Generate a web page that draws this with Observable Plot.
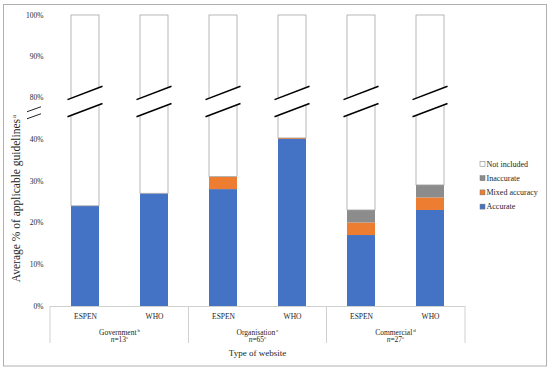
<!DOCTYPE html>
<html><head><meta charset="utf-8">
<script src="https://cdn.jsdelivr.net/npm/d3@7"></script>
<script src="https://cdn.jsdelivr.net/npm/@observablehq/plot@0.6"></script>
<style>body{margin:0;background:#fff}</style>
</head><body><div id="chart"></div>
<script>
// ---- data ----
const groups = ["Government", "Organisation", "Commercial"];
const groupSup = ["b", "c", "d"];
const groupN = [13, 65, 27];
const nSup = "e";
const sources = ["ESPEN", "WHO"];
const categories = ["Accurate", "Mixed accuracy", "Inaccurate", "Not included"];
const accurate    = [24, 27, 28, 40, 17, 23];
const mixed       = [0, 0, 3, 1, 3, 3];
const inaccurate  = [0, 0, 0, 0, 3, 3];
const notIncluded = [76, 73, 69, 59, 77, 71];
const yTicks = [0, 10, 20, 30, 40, 80, 90, 100];
const yAxisTitle = "Average % of applicable guidelines";
const yAxisSup = "a";
const xAxisTitle = "Type of website";

// ---- styling / layout constants ----
const colors = ["#4472C4", "#ED7D31", "#8C8C8C", "#FFFFFF"];
const font = "'Liberation Serif', 'Times New Roman', serif";
const breakLow = 67.5, breakHigh = 81, axisBreak = 65;

// broken-axis transform: 0–40 full scale, 40–80 compressed, 80–100 full scale
const broken = v => v <= 40 ? v * 4.175 : v <= 80 ? 167 + (v - 40) * 1.05 : 209 + (v - 80) * 4.1;
const tickLabel = new Map(yTicks.map(t => [broken(t), t]));

// ---- build table ----
const keys = groups.flatMap(g => sources.map(s => g + "|" + s));
const series = [accurate, mixed, inaccurate, notIncluded];
const rows = [];
keys.forEach((k, i) => {
  let acc = 0;
  categories.forEach((c, j) => {
    const v = series[j][i];
    if (v > 0) rows.push({key: k, cat: c, y1: broken(acc), y2: broken(acc + v)});
    acc += v;
  });
});

const chart = Plot.plot({
  width: 550, height: 371,
  marginLeft: 50, marginRight: 85, marginTop: 15, marginBottom: 65,
  style: {fontFamily: font, fontSize: "7.5px", color: "#262626", background: "#fff"},
  x: {domain: keys, paddingInner: 0.6, paddingOuter: 0.3, label: null},
  y: {domain: [broken(0), broken(100)], label: null},
  color: {domain: categories, range: colors},
  marks: [
    Plot.axisX({tickSize: 0, tickPadding: 7, tickFormat: k => k.split("|")[1], label: null}),
    Plot.axisY(yTicks.map(broken), {tickSize: 0, tickPadding: 7, tickFormat: d => tickLabel.get(d) + "%", label: null}),
    Plot.barY(rows.filter(d => d.cat !== "Not included"), {x: "key", y1: "y1", y2: "y2", fill: "cat"}),
    Plot.barY(rows.filter(d => d.cat === "Not included"), {x: "key", y1: "y1", y2: "y2", fill: "#fff", stroke: "#a6a6a6", strokeWidth: 0.8}),
    Plot.ruleY([0], {stroke: "#d0d0d0"})
  ]
});
document.getElementById("chart").append(chart);

// ---- annotations using the plot's scales ----
const xs = chart.scale("x"), ys = chart.scale("y");
const Y = v => ys.apply(broken(v));
const bw = xs.bandwidth;
const cx = k => xs.apply(k) + bw / 2;
const svg = d3.select(chart);
const g = svg.append("g").attr("text-anchor", "middle");
const hx = 17.5, hy = 6.7;

keys.forEach(k => {
  const c = cx(k);
  const ly = (v, x) => Y(v) - (x - c) * hy / hx;
  const xL = c - bw / 2 - 1, xR = c + bw / 2 + 1;
  g.append("polygon")
    .attr("points", [[xL, ly(breakHigh, xL)], [xR, ly(breakHigh, xR)], [xR, ly(breakLow, xR)], [xL, ly(breakLow, xL)]].map(p => p.join(",")).join(" "))
    .attr("fill", "#fff");
  [breakHigh, breakLow].forEach(v => {
    g.append("line")
      .attr("x1", c - hx).attr("y1", ly(v, c - hx))
      .attr("x2", c + hx).attr("y2", ly(v, c + hx))
      .attr("stroke", "#000").attr("stroke-width", 1.5);
  });
});

// y-axis break marks
const ax = xs.range[0] - 16;
[-3.5, 3.5].forEach(o => {
  const y0 = Y(axisBreak) + o;
  g.append("line").attr("x1", ax - 7).attr("y1", y0 + 2.5).attr("x2", ax + 7).attr("y2", y0 - 2.5)
    .attr("stroke", "#222").attr("stroke-width", 1);
});

// group separators and labels
const centers = keys.map(cx);
const y0px = Y(0);
const bounds = [xs.range[0]];
for (let i = 0; i < groups.length - 1; i++) bounds.push((centers[2 * i + 1] + centers[2 * i + 2]) / 2);
bounds.push(xs.range[1]);
bounds.forEach(b => g.append("line").attr("x1", b).attr("x2", b).attr("y1", y0px).attr("y2", y0px + 37)
  .attr("stroke", "#d0d0d0"));

groups.forEach((name, i) => {
  const gx = (centers[2 * i] + centers[2 * i + 1]) / 2;
  const t1 = g.append("text").attr("x", gx).attr("y", y0px + 28.5)
    .attr("font-family", font).attr("font-size", 7.5).attr("fill", "#262626");
  t1.append("tspan").text(name);
  t1.append("tspan").attr("font-size", 5).attr("dy", -3).attr("dx", 1).text(groupSup[i]);
  const t2 = g.append("text").attr("x", gx).attr("y", y0px + 36)
    .attr("font-family", font).attr("font-size", 7.5).attr("fill", "#262626");
  t2.append("tspan").attr("font-style", "italic").text("n");
  t2.append("tspan").text("=" + groupN[i]);
  t2.append("tspan").attr("font-size", 5).attr("dy", -3).text(nSup);
});

g.append("text").attr("x", (xs.range[0] + xs.range[1]) / 2).attr("y", y0px + 50)
  .attr("font-family", font).attr("font-size", 9).attr("fill", "#262626")
  .text(xAxisTitle);

// y title
const yt = g.append("text").attr("transform", `translate(20,${(Y(0) + Y(100)) / 2 + 38}) rotate(-90)`)
  .attr("font-family", font).attr("font-size", 11.5).attr("fill", "#262626");
yt.append("tspan").text(yAxisTitle);
yt.append("tspan").attr("font-size", 7).attr("dy", -4).attr("dx", 1).text(yAxisSup);

// legend
const legendX = xs.range[1] + 15;
const legendRows = categories.slice().reverse();
legendRows.forEach((c, i) => {
  const yy = 164 + i * 14.2;
  g.append("rect").attr("x", legendX).attr("y", yy - 2.5).attr("width", 5).attr("height", 5)
    .attr("fill", colors[categories.indexOf(c)]).attr("stroke", "#777").attr("stroke-width", 0.5);
  g.append("text").attr("x", legendX + 6.5).attr("y", yy).attr("dy", "0.32em").attr("text-anchor", "start")
    .attr("font-family", font).attr("font-size", 8).attr("fill", "#262626").text(c);
});

// outer frame
svg.append("rect").attr("x", 3.5).attr("y", 4.5).attr("width", 543).attr("height", 361.5)
  .attr("fill", "none").attr("stroke", "#b0b0b0");
</script></body></html>
